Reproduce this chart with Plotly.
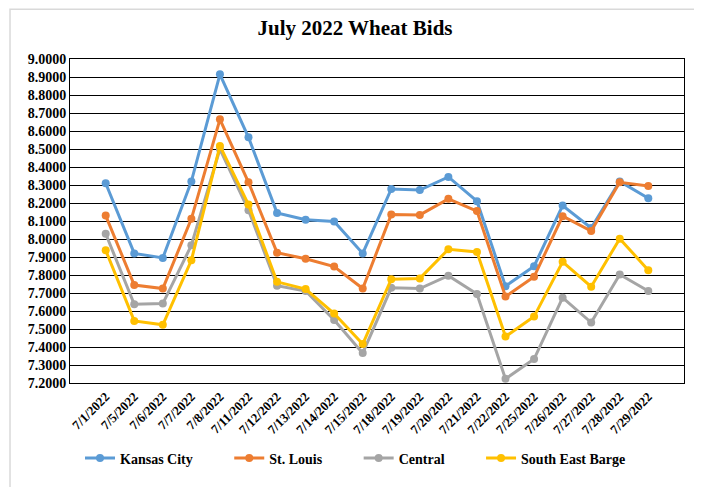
import plotly.graph_objects as go

dates = ["7/1/2022", "7/5/2022", "7/6/2022", "7/7/2022", "7/8/2022", "7/11/2022",
         "7/12/2022", "7/13/2022", "7/14/2022", "7/15/2022", "7/18/2022", "7/19/2022",
         "7/20/2022", "7/21/2022", "7/22/2022", "7/25/2022", "7/26/2022", "7/27/2022",
         "7/28/2022", "7/29/2022"]

kansas_city = [8.31, 7.92, 7.895, 8.32, 8.915, 8.565, 8.145, 8.107, 8.097, 7.92,
               8.278, 8.272, 8.345, 8.21, 7.738, 7.849, 8.186, 8.061, 8.32, 8.226]
st_louis = [8.13, 7.744, 7.725, 8.112, 8.665, 8.315, 7.924, 7.89, 7.847, 7.725,
            8.136, 8.134, 8.223, 8.155, 7.68, 7.79, 8.127, 8.044, 8.315, 8.294]
central = [8.029, 7.637, 7.641, 7.965, 8.50, 8.16, 7.74, 7.711, 7.55, 7.366,
           7.729, 7.725, 7.796, 7.694, 7.223, 7.333, 7.674, 7.536, 7.803, 7.711]
se_barge = [7.937, 7.545, 7.523, 7.882, 8.517, 8.191, 7.762, 7.722, 7.586, 7.416,
            7.777, 7.781, 7.943, 7.928, 7.458, 7.569, 7.873, 7.735, 8.002, 7.827]

series_names = ["Kansas City", "St. Louis", "Central", "South East Barge"]
series_values = [kansas_city, st_louis, central, se_barge]
series_colors = ["#5B9BD5", "#ED7D31", "#A5A5A5", "#FFC000"]

serif = "Liberation Serif, Times New Roman, serif"
pad = "\u00a0" * 9

fig = go.Figure()
for i, (name, vals, color) in enumerate(zip(series_names, series_values, series_colors)):
    label = name + (pad if i < len(series_names) - 1 else "")
    fig.add_trace(go.Scatter(
        x=dates, y=vals, name=label, mode="lines+markers",
        line=dict(color=color, width=3),
        marker=dict(color=color, size=8),
    ))

fig.update_layout(
    width=694, height=479,
    margin=dict(l=62, r=18, t=51, b=102),
    paper_bgcolor="white", plot_bgcolor="white",
    title=dict(text="July 2022 Wheat Bids", x=0.5, xanchor="center", y=0.958, yanchor="middle",
               font=dict(family=serif, size=21, color="black", weight="bold")),
    showlegend=True,
    legend=dict(orientation="h", x=0.465, xanchor="center", y=-0.233, yanchor="middle",
                font=dict(family=serif, size=14, color="black", weight="bold"),
                itemwidth=30, tracegroupgap=0),
    shapes=[dict(type="rect", xref="paper", yref="paper",
                 x0=-0.0977, x1=1.0228, y0=-0.40, y1=1.1535,
                 line=dict(color="#D9D9D9", width=1.5), fillcolor="rgba(0,0,0,0)", layer="below")],
)

fig.update_xaxes(
    type="category", tickangle=-45,
    tickfont=dict(family=serif, size=13, color="black", weight="bold"),
    showgrid=False, showline=True, linecolor="black", linewidth=1, mirror=True,
    ticks="", automargin=False,
)
fig.update_yaxes(
    range=[7.2, 9.0], dtick=0.1, tickformat=".4f",
    tickfont=dict(family=serif, size=14, color="black", weight="bold"),
    showgrid=True, gridcolor="black", gridwidth=1,
    showline=True, linecolor="black", linewidth=1, mirror=True,
    zeroline=False, ticks="", automargin=False,
)

fig.write_html("out.html")
